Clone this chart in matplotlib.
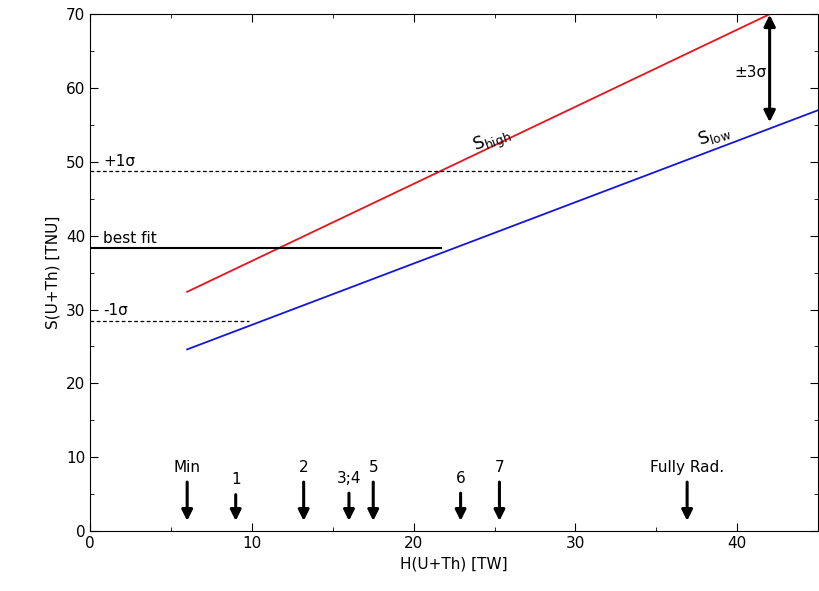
import matplotlib.pyplot as plt

# lines
high_x = [6, 42]
high_y = [32.4, 70]
low_x = [6, 45]
low_y = [24.6, 57]
best_fit = 38.3
best_fit_end = 21.7
plus_sigma = 48.7
plus_sigma_end = 33.8
minus_sigma = 28.5
minus_sigma_end = 9.8

# model arrows
model_labels = ['Min', '1', '2', '3;4', '5', '6', '7', 'Fully Rad.']
model_x = [6.0, 9.0, 13.2, 16.0, 17.5, 22.9, 25.3, 36.9]
arrow_top = [7.0, 5.3, 7.0, 5.5, 7.0, 5.5, 7.0, 7.0]

fig = plt.figure(figsize=(8.19, 5.91), dpi=100)
ax = fig.add_axes([0.110, 0.1015, 0.889, 0.8745])

ax.plot(high_x, high_y, color='#e8141c', lw=1.3)
ax.plot(low_x, low_y, color='#1515e0', lw=1.3)
ax.plot([0, best_fit_end], [best_fit, best_fit], color='black', lw=1.5)
ax.plot([0, plus_sigma_end], [plus_sigma, plus_sigma], 'k--', lw=0.9, dashes=(3, 2))
ax.plot([0, minus_sigma_end], [minus_sigma, minus_sigma], 'k--', lw=0.9, dashes=(3, 2))

ax.text(0.8, 49.5, '+1σ', fontsize=11)
ax.text(0.8, 39.0, 'best fit', fontsize=11)
ax.text(0.8, 29.3, '-1σ', fontsize=11)
ax.text(23.5, 51.5, r'S$_{\mathregular{high}}$', fontsize=12.5, rotation=20)
ax.text(37.4, 52.3, r'S$_{\mathregular{low}}$', fontsize=12.5, rotation=17)

ax.annotate('', xy=(42, 55), xytext=(42, 70.3),
            arrowprops=dict(arrowstyle='<|-|>', color='black', lw=2.2, mutation_scale=17))
ax.text(39.8, 61.5, '±3σ', fontsize=11)

for lab, x, top in zip(model_labels, model_x, arrow_top):
    ax.annotate('', xy=(x, 1.0), xytext=(x, top),
                arrowprops=dict(arrowstyle='-|>', color='black', lw=2.2, mutation_scale=16))
    ax.text(x, top + 0.6, lab, ha='center', va='bottom', fontsize=11)

ax.set_xlim(0, 45)
ax.set_ylim(0, 70)
ax.set_xticks(range(0, 41, 10))
ax.set_yticks(range(0, 71, 10))
ax.set_xticks(range(0, 46, 5), minor=True)
ax.set_yticks(range(0, 71, 5), minor=True)
ax.tick_params(which='both', direction='in', top=True, right=True, labelsize=11)
ax.tick_params(which='major', length=6)
ax.tick_params(which='minor', length=3)
ax.set_xlabel('H(U+Th) [TW]', fontsize=11)
ax.set_ylabel('S(U+Th) [TNU]', fontsize=11)

fig.savefig('out.png', dpi=100)
